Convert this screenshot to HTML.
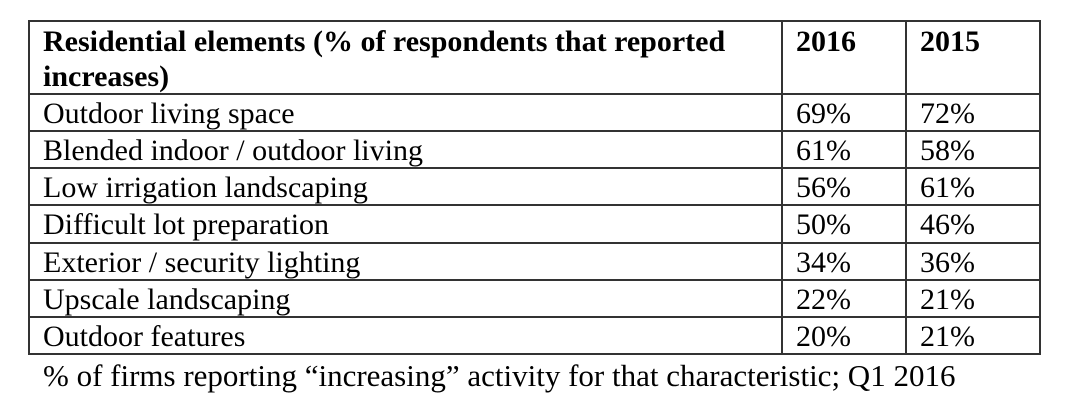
<!DOCTYPE html>
<html><head><meta charset="utf-8"><style>
body{margin:0;width:1079px;height:415px;background:#fff;overflow:hidden;position:relative;font-family:"Liberation Serif","Times New Roman",Times,serif;color:#000}
.l{position:absolute;background:#333}
.t{position:absolute;font-size:30px;white-space:nowrap;line-height:37px;font-family:"Liberation Serif","Times New Roman",Times,serif}
.h{position:absolute;font-size:30px;font-weight:bold;white-space:nowrap;font-family:"Liberation Serif","Times New Roman",Times,serif}
</style></head><body>
<div>
<div class="l" style="left:28px;top:20px;width:1013px;height:2px"></div>
<div class="l" style="left:28px;top:20px;width:2px;height:335px"></div>
<div class="l" style="left:1039px;top:20px;width:2px;height:335px"></div>
<div class="l" style="left:781px;top:20px;width:2px;height:335px"></div>
<div class="l" style="left:905px;top:20px;width:2px;height:335px"></div>
<div class="h" style="left:43px;top:24px;line-height:35px">Residential elements (% of respondents that reported<br>increases)</div>
<div class="h" style="left:796px;top:24px;line-height:35px">2016</div>
<div class="h" style="left:920px;top:24px;line-height:35px">2015</div>
<div id="rows"></div>
</div>
<div class="t" style="left:43px;top:357px;font-size:31px">% of firms reporting “increasing” activity for that characteristic; Q1 2016</div>
<script>
const categories=["Outdoor living space","Blended indoor / outdoor living","Low irrigation landscaping","Difficult lot preparation","Exterior / security lighting","Upscale landscaping","Outdoor features"];
const values2016=[69,61,56,50,34,22,20];
const values2015=[72,58,61,46,36,21,21];
const rows=document.getElementById('rows');
const top0=94,rh=37.14;
function add(cls,style,text){const d=document.createElement('div');d.className=cls;d.setAttribute('style',style);if(text!==undefined)d.textContent=text;rows.appendChild(d);return d;}
categories.forEach((c,i)=>{
  const y=top0+i*rh;
  const ln=add('l','left:28px;top:'+Math.round(y-1)+'px;width:1013px;height:2px');
  
  
  const a=add('t','left:43px;top:'+(y+1)+'px',c);
  
  
  const b=add('t','left:796px;top:'+(y+1)+'px',values2016[i]+'%');
  
  
  const e=add('t','left:920px;top:'+(y+1)+'px',values2015[i]+'%');
  
  
});
const bl=add('l','left:28px;top:'+Math.round(top0+categories.length*rh-1)+'px;width:1013px;height:2px');


</script>
</body></html>
